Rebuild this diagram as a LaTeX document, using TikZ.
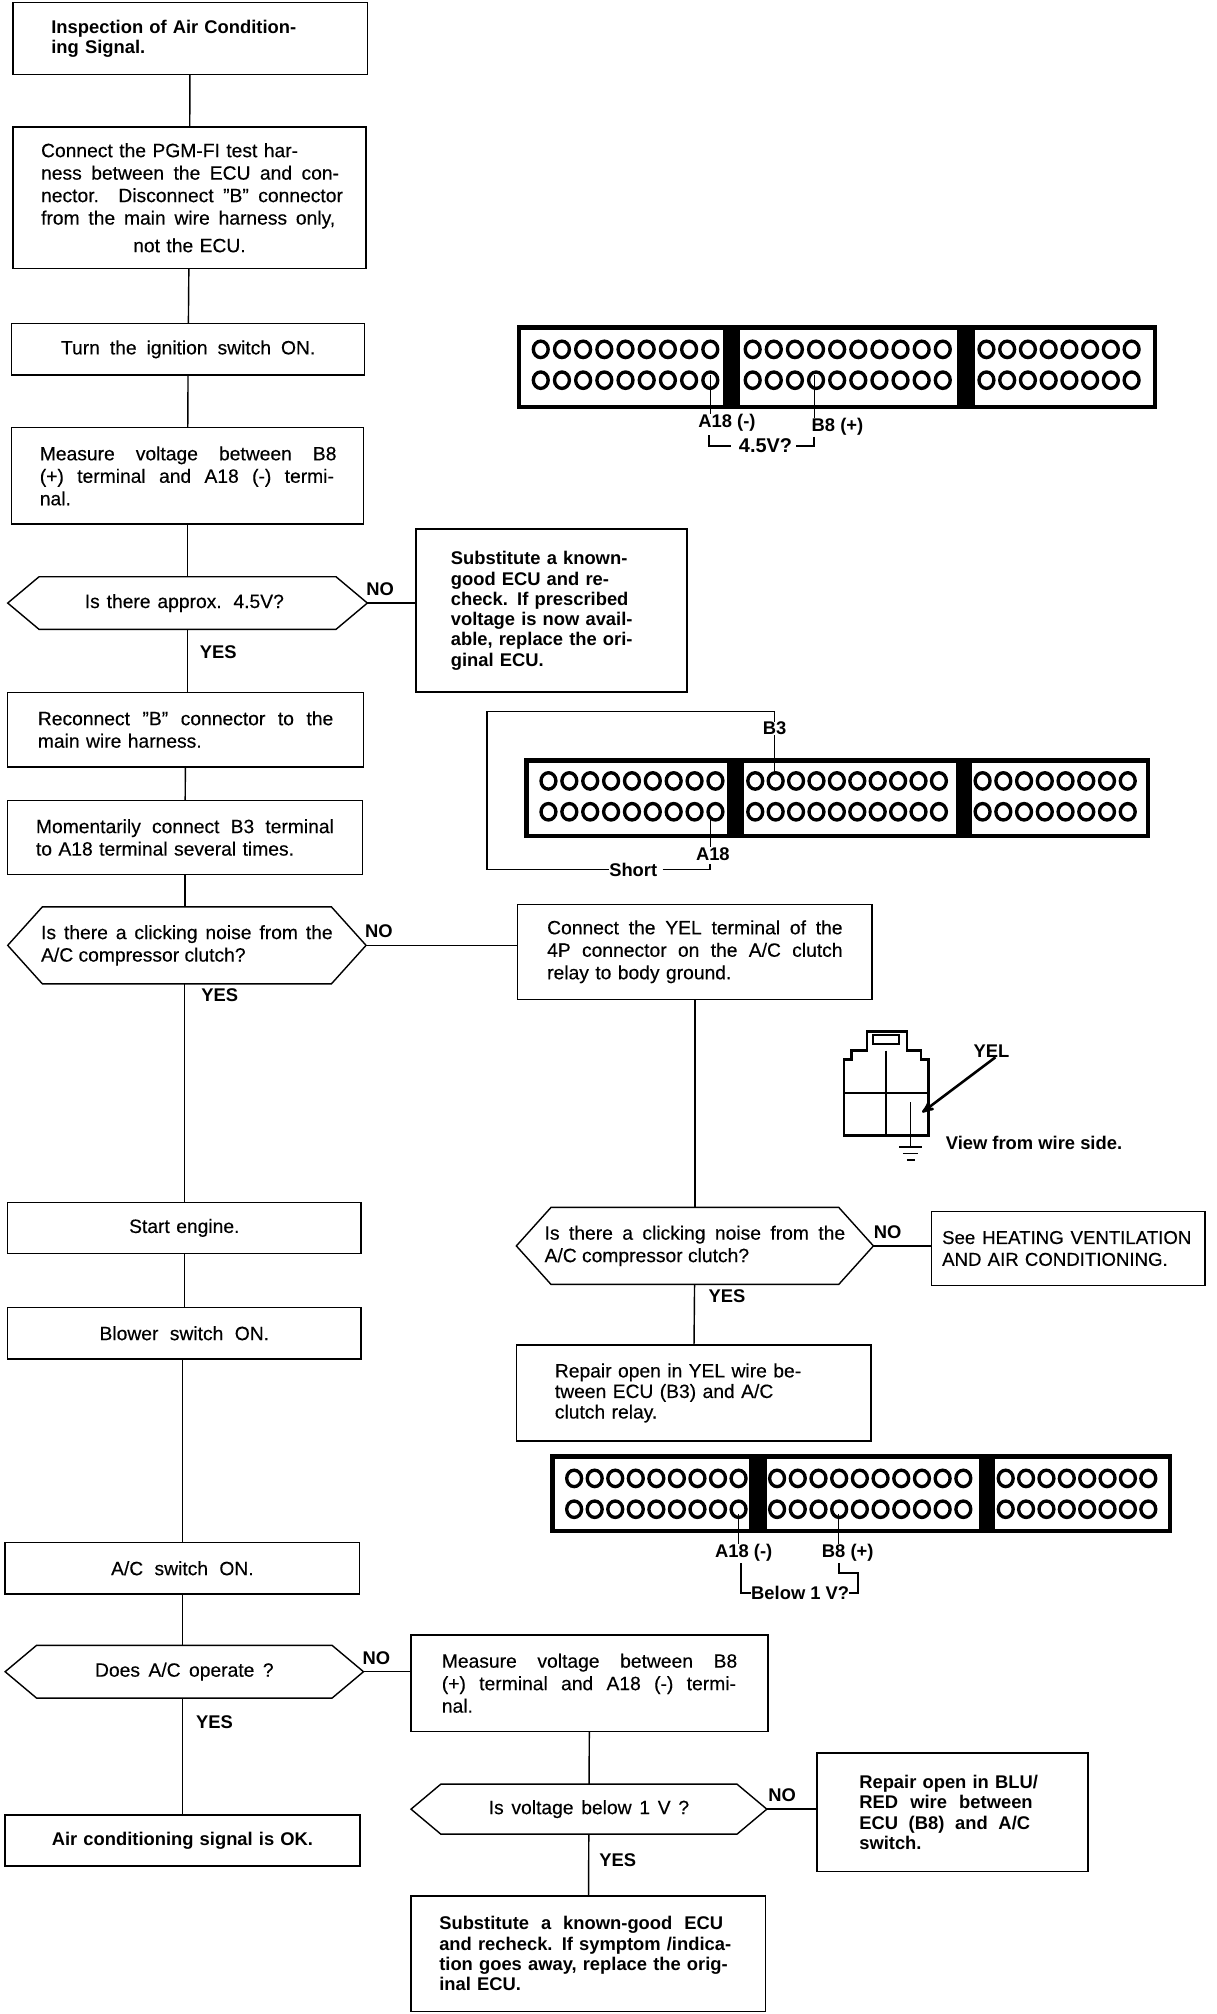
\documentclass[tikz,border=0pt]{standalone}
\usepackage{fontspec}
\setmainfont{Liberation Sans}
\usepackage{tikz}
\usetikzlibrary{shapes}
\usetikzlibrary{arrows}
\newcommand{\fl}[2]{\makebox[#1][s]{\spaceskip=0pt\xspaceskip=0pt #2}}
\newcommand{\cl}[2]{\makebox[#1][c]{#2}}
\newcommand{\hexrows}[2]{\makebox[180pt]{\parbox{#1}{#2}}}
\newcommand{\bodyfont}{\fontsize{15}{17.5}\selectfont\addfontfeature{FakeBold=0.3}}
\newcommand{\headfont}{\fontsize{14.3}{15.8}\selectfont\bfseries}
\tikzset{
	box/.style 2 args={rectangle,draw,line width=1.1pt,outer sep=0pt,inner sep=0pt,align=left,
		minimum width=#1,minimum height=#2,font=\bodyfont},
	heavy/.style={line width=1.4pt,font=\headfont},
	hexa/.style 2 args={signal,signal to=east and west,draw,line width=1.1pt,outer sep=0pt,inner sep=0pt,
		minimum width=#1,minimum height=#2,align=left,font=\bodyfont},
	low/.style={signal pointer angle=80},
	tall/.style={signal pointer angle=96},
	tag/.style={inner sep=0pt,font=\headfont},
	wire/.style={line width=1.1pt},
	hole/.style={line width=2.6pt}
}
\begin{document}
\begin{tikzpicture}[x=1pt,y=-1pt]
	\useasboundingbox (0,0) rectangle (947,1568);
	\node [box={276pt}{56pt},heavy,line width=1.1pt,text width=216pt] (insp) at (148,30) {Inspection of Air Condition-\\ing Signal.};
	\node [box={275pt}{110pt},text width=231pt] (harness) at (147.5,154) {Connect the PGM-FI test har-\\\fl{232pt}{ness between the ECU and con-}\\\fl{235pt}{nector. Disconnect "B" connector}\\\fl{229pt}{from the main wire harness only,}\\[4pt]\cl{231pt}{not the ECU.}};
	\node [box={275pt}{40pt},text width=220pt,align=center] (ign) at (146.5,272) {\fl{198pt}{Turn the ignition switch ON.}};
	\node [box={274pt}{75pt},text width=230pt] (meas) at (146,370.5) {\fl{231pt}{Measure voltage between B8}\\\fl{229pt}{(+) terminal and A18 (-) termi-}\\nal.};
	\node [hexa={280pt}{41pt},low] (q45) at (146,469.5) {\hspace*{-5pt}\fl{155pt}{Is there approx. 4.5V?}};
	\node [box={211pt}{127pt},heavy,text width=157pt] (sub) at (429.5,475.5) {Substitute a known-\\good ECU and re-\\check. If prescribed\\voltage is now avail-\\able, replace the ori-\\ginal ECU.};
	\node [box={277pt}{58pt},text width=230pt] (recon) at (144.5,568) {\fl{230pt}{Reconnect "B" connector to the}\\main wire harness.};
	\node [box={276pt}{58pt},text width=232pt] (mom) at (144,652) {\fl{232pt}{Momentarily connect B3 terminal}\\to A18 terminal several times.};
	\node [hexa={279pt}{60pt},tall] (qclick) at (145.5,736) {\hexrows{227pt}{\fl{227pt}{Is there a clicking noise from the}\\A/C compressor clutch?}};
	\node [box={276pt}{74pt},text width=230pt] (yel) at (541,741) {\fl{230pt}{Connect the YEL terminal of the}\\\fl{230pt}{4P connector on the A/C clutch}\\relay to body ground.};
	\node [hexa={278pt}{60pt},tall] (qcomp) at (541,970) {\hexrows{234pt}{\fl{234pt}{Is there a clicking noise from the}\\A/C compressor clutch?}};
	\node [box={213pt}{58pt},font=\fontsize{14.5}{17}\selectfont\addfontfeature{FakeBold=0.3},text width=196pt] (heat) at (831.5,972) {\fl{194pt}{See HEATING VENTILATION}\\AND AIR CONDITIONING.};
	\node [box={276pt}{75pt},text width=216pt] (yelrep) at (540,1084.5) {Repair open in YEL wire be-\\[-1.5pt]tween ECU (B3) and A/C\\[-1.5pt]clutch relay.};
	\node [box={275pt}{40pt},text width=200pt,align=center] (start) at (143.5,956) {Start engine.};
	\node [box={275pt}{40pt},text width=200pt,align=center] (blow) at (143.5,1038) {\fl{132pt}{Blower switch ON.}};
	\node [box={276pt}{40pt},text width=200pt,align=center] (acsw) at (142,1221) {\fl{111pt}{A/C switch ON.}};
	\node [hexa={279pt}{41pt},low] (qac) at (143.5,1301.5) {\fl{139pt}{Does A/C operate ?}};
	\node [box={276pt}{40pt},heavy,text width=220pt,align=center] (okbox) at (142,1433) {Air conditioning signal is OK.};
	\node [box={278pt}{75pt},text width=230pt] (meastwo) at (459,1310.5) {\fl{230pt}{Measure voltage between B8}\\\fl{229pt}{(+) terminal and A18 (-) termi-}\\nal.};
	\node [hexa={277pt}{39pt},low] (qvolt) at (458.5,1408.5) {\fl{156pt}{Is voltage below 1 V ?}};
	\node [box={211pt}{92pt},heavy,text width=145pt] (blu) at (741.5,1411) {Repair open in BLU/\\\fl{135pt}{RED wire between}\\\fl{133pt}{ECU (B8) and A/C}\\switch.};
	\node [box={276pt}{90pt},heavy,text width=232pt] (subtwo) at (458,1521) {\fl{221pt}{Substitute a known-good ECU}\\and recheck. If symptom /indica-\\tion goes away, replace the orig-\\inal ECU.};
	\draw [wire] (insp) -- (harness);
	\draw [wire] (harness) -- (ign);
	\draw [wire] (ign) -- (meas);
	\draw [wire] (meas) -- (q45);
	\draw [wire] (q45.south) -- (q45.south |- recon.north);
	\draw [wire] (recon) -- (mom);
	\draw [wire] (mom.south) -- (mom.south |- qclick.north);
	\draw [wire] (q45.east) -- (q45.east -| sub.west);
	\draw [wire] (qclick.east) -- (qclick.east -| yel.west);
	\draw [wire] (start.north |- qclick.south) -- (start.north);
	\draw [wire] (start) -- (blow);
	\draw [wire] (acsw.north |- blow.south) -- (acsw.north);
	\draw [wire] (acsw.south) -- (acsw.south |- qac.north);
	\draw [wire] (okbox.north |- qac.south) -- (okbox.north);
	\draw [wire] (yel) -- (qcomp);
	\draw [wire] (qcomp.east) -- (qcomp.east -| heat.west);
	\draw [wire] (qcomp) -- (yelrep);
	\draw [wire] (qac.east) -- (qac.east -| meastwo.west);
	\draw [wire] (meastwo) -- (qvolt);
	\draw [wire] (qvolt.east) -- (qvolt.east -| blu.west);
	\draw [wire] (qvolt) -- (subtwo);
	\node [tag] (noa) at (296,459) {NO};
	\node [tag] (yesa) at (170,508) {YES};
	\node [tag] (nob) at (295,725) {NO};
	\node [tag] (yesb) at (171,775) {YES};
	\node [tag] (noc) at (691,959) {NO};
	\node [tag] (yesc) at (566,1009) {YES};
	\node [tag] (nod) at (293,1291) {NO};
	\node [tag] (yesd) at (167,1341) {YES};
	\node [tag] (noe) at (609,1398) {NO};
	\node [tag] (yese) at (481,1448) {YES};
	\foreach \xl/\xr/\yt/\yb/\sa/\sb/\sc/\sd/\ra/\rb/\ha/\hb/\hc/\hd/\he/\hf in {
		404/899/255/317/563/576/745/759/272/296/421/553/586/734/768/881,
		410/894/592/651/566/579/744/757/608/632/427/557/588/731/765/878,
		430/911/1134/1192/583/597/762/775/1151/1175/447/575/605/750/783/894} {
		\draw [line width=3.4pt] (\xl,\yt) rectangle (\xr,\yb);
		\fill (\sa,\yt) rectangle (\sb,\yb);
		\fill (\sc,\yt) rectangle (\sd,\yb);
		\foreach \r in {\ra,\rb} {
			\foreach \i in {0,...,8}
				\draw [hole] ({\ha+\i*(\hb-\ha)/8},\r) ellipse [x radius=5.8,y radius=6.4];
			\foreach \i in {0,...,9}
				\draw [hole] ({\hc+\i*(\hd-\hc)/9},\r) ellipse [x radius=5.8,y radius=6.4];
			\foreach \i in {0,...,7}
				\draw [hole] ({\he+\i*(\hf-\he)/7},\r) ellipse [x radius=5.8,y radius=6.4];
		}
	}
	\coordinate (pina) at (553,292);
	\coordinate (pinb) at (634,292);
	\node [tag] (taga) at (566,329) {A18 (-)};
	\node [tag] (tagb) at (652,332) {B8 (+)};
	\node [tag,font=\fontsize{15.5}{17}\selectfont\bfseries] (volta) at (596,347) {4.5V?};
	\draw [wire] (pina) -- (pina |- taga.north);
	\draw [wire] (pinb) -- (pinb |- tagb.north);
	\draw [line width=1.6pt] (552,339) |- ([xshift=-6pt]volta.west);
	\draw [line width=1.6pt] (634,340) |- ([xshift=3pt]volta.east);
	\coordinate (pinc) at (603,602);
	\coordinate (pind) at (553,638);
	\node [tag] (tagc) at (603,567) {B3};
	\node [tag] (tagd) at (555,665) {A18};
	\node [tag] (short) at (493,677) {Short};
	\draw [wire] (pinc) -- (tagc.south);
	\draw [wire] (pind) -- (tagd.north -| pind);
	\draw [line width=1.4pt] (tagc.north) -- (603,554) -| (379,677) -- (short.west);
	\draw [line width=1.4pt] ([xshift=4pt]short.east) -- (553,677) -- (553,673);
	\coordinate (pine) at (575,1179);
	\coordinate (pinf) at (653,1179);
	\node [tag] (tage) at (579,1209) {A18 (-)};
	\node [tag] (tagf) at (660,1209) {B8 (+)};
	\node [tag] (voltb) at (623,1240) {Below 1 V?};
	\draw [wire] (pine) -- (pine |- tage.north);
	\draw [wire] (pinf) -- (pinf |- tagf.north);
	\draw [line width=1.6pt] (577,1217) |- (voltb.west);
	\draw [line width=1.6pt] (653,1217) -- (653,1225) -- (668,1225) |- (voltb.east);
	\draw [line width=2pt] (657,884) -- (657,825) -- (663,825) -- (663,818) -- (675,818) -- (675,803) -- (706,803) -- (706,818) -- (717,818) -- (717,825) -- (723,825) -- (723,884) -- cycle;
	\draw [line width=1.5pt] (680,806) rectangle (700,813);
	\draw [line width=1.5pt] (690,818) -- (690,884) (657,851) -- (723,851);
	\coordinate (gnd) at (709,893);
	\draw [wire] (709,858) -- (gnd);
	\draw [line width=1.3pt] (700,893) -- (718,893) (703,898) -- (715,898) (706,903) -- (712,903);
	\node [tag] (yeltag) at (772,818) {YEL};
	\node [tag] (viewtag) at (805,890) {View from wire side.};
	\draw [-stealth',line width=2pt] ([xshift=3pt]yeltag.south) -- (718,866);
\end{tikzpicture}
\end{document}
